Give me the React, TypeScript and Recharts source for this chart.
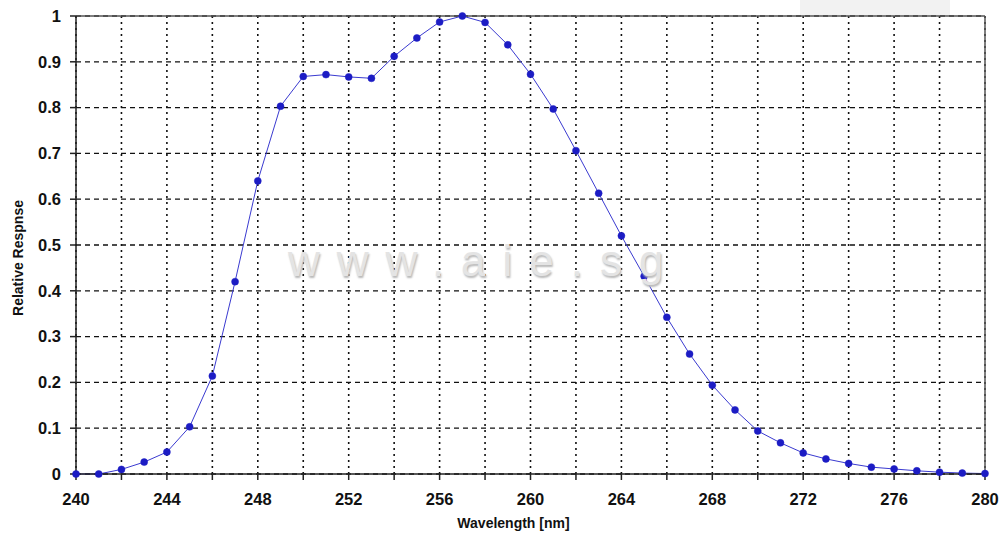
import { LineChart, Line, XAxis, YAxis, CartesianGrid, ReferenceLine, Label } from 'recharts'

const wavelengths = [
  240, 241, 242, 243, 244, 245, 246, 247, 248, 249, 250, 251, 252, 253, 254, 255, 256, 257, 258, 259, 260,
  261, 262, 263, 264, 265, 266, 267, 268, 269, 270, 271, 272, 273, 274, 275, 276, 277, 278, 279, 280,
]
const response = [
  0, 0, 0.01, 0.026, 0.048, 0.103, 0.214, 0.42, 0.64, 0.803, 0.868, 0.872, 0.867, 0.864, 0.912, 0.952, 0.987, 1.0, 0.986, 0.937, 0.873,
  0.797, 0.706, 0.613, 0.52, 0.432, 0.342, 0.262, 0.194, 0.14, 0.094, 0.068, 0.046, 0.033, 0.023, 0.015, 0.011, 0.007, 0.004, 0.002, 0.001,
]
const xTicks = [240, 242, 244, 246, 248, 250, 252, 254, 256, 258, 260, 262, 264, 266, 268, 270, 272, 274, 276, 278, 280]
const yTicks = [0, 0.1, 0.2, 0.3, 0.4, 0.5, 0.6, 0.7, 0.8, 0.9, 1]

const data = wavelengths.map((w, i) => ({ w, r: response[i] }))

const font = 'Liberation Sans, Arial, sans-serif'
const tickStyle = { fill: '#111', fontSize: 16.5, fontFamily: font, fontWeight: 600 }

const YTitle = ({ viewBox }: any) => {
  const x = viewBox.x + 18
  const y = viewBox.y + viewBox.height / 2 + 13
  return (
    <text
      x={x}
      y={y}
      transform={`rotate(-90 ${x} ${y})`}
      textAnchor="middle"
      dominantBaseline="central"
      style={{ fill: '#111', fontSize: 14, fontFamily: font, fontWeight: 700 }}
    >
      Relative Respnse
    </text>
  )
}

export default function App() {
  return (
    <div style={{ position: 'fixed', left: 0, top: 0, width: 1004, height: 536, background: '#fff' }}>
      {/* faint logo corner */}
      <div style={{ position: 'absolute', left: 800, top: 0, width: 150, height: 16, background: '#ececec', opacity: 0.7 }} />
      <LineChart width={1004} height={536} data={data} margin={{ top: 16, right: 19, bottom: 32, left: 0 }}>
        <CartesianGrid horizontal vertical={false} stroke="#111" strokeDasharray="5 4" strokeWidth={1.3} />
        <CartesianGrid horizontal={false} vertical stroke="#111" strokeDasharray="2 4" strokeWidth={1.6} />
        <XAxis
          dataKey="w"
          type="number"
          domain={[240, 280]}
          ticks={xTicks}
          interval={0}
          tickFormatter={(v: number) => (v % 4 === 0 ? String(v) : '')}
          stroke="#222"
          strokeWidth={1.5}
          tickSize={6}
          tickMargin={13}
          height={30}
          tick={tickStyle}
        >
          <Label
            value="Wavelength [nm]"
            position="insideBottom"
            offset={-24}
            dx={-17}
            style={{ fill: '#111', fontSize: 14, fontFamily: font, fontWeight: 700 }}
          />
        </XAxis>
        <YAxis
          type="number"
          domain={[0, 1]}
          ticks={yTicks}
          interval={0}
          tickFormatter={(v: number) => String(Math.round(v * 10) / 10)}
          stroke="#222"
          strokeWidth={1.5}
          tickSize={6}
          tickMargin={9}
          width={76}
          tick={tickStyle}
        >
          <Label content={YTitle} />
        </YAxis>
        <ReferenceLine y={1} stroke="#555" strokeWidth={1.5} />
        <ReferenceLine x={280} stroke="#555" strokeWidth={1.5} />
        <Line
          type="linear"
          dataKey="r"
          stroke="#3a3ad0"
          strokeWidth={1}
          dot={{ r: 3.5, fill: '#1c1cc4', stroke: '#1c1cc4', strokeWidth: 0.5 }}
          isAnimationActive={false}
        />
      </LineChart>
      <div
        style={{
          position: 'absolute',
          left: 288,
          top: 236,
          fontFamily: font,
          fontSize: 44,
          letterSpacing: 17,
          color: '#e4e4e4',
          textShadow: '1px 2px 2px #b8b8b8',
          pointerEvents: 'none',
          whiteSpace: 'nowrap',
        }}
      >
        www.aie.sg
      </div>
    </div>
  )
}
